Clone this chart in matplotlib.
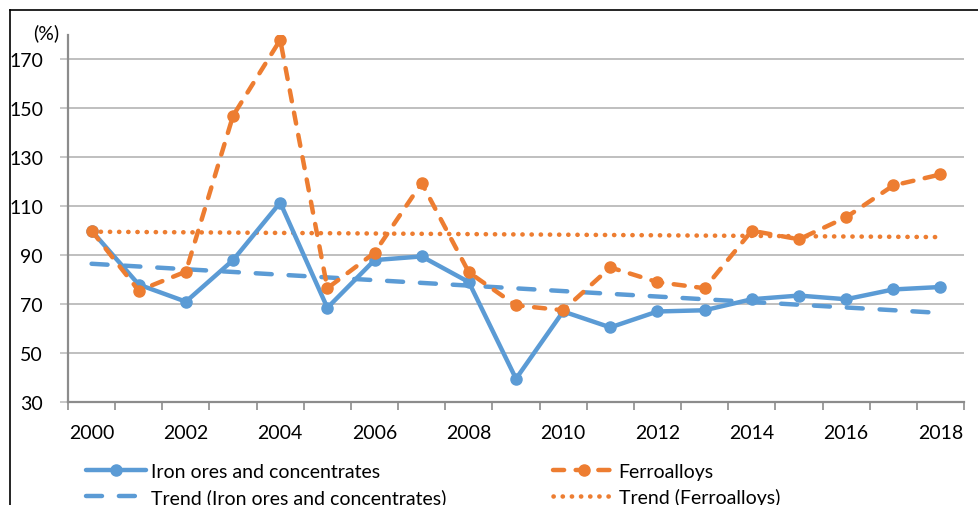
import numpy as np
import matplotlib
matplotlib.use('Agg')
import matplotlib.pyplot as plt
from matplotlib.lines import Line2D

plt.rcParams['font.family'] = ['Lato', 'DejaVu Sans']

# 데이터
years = list(range(2000, 2019))
iron = [100, 78, 71, 88, 111.5, 68.5, 88, 89.5, 79, 39.5,
        67, 60.5, 67, 67.5, 72, 73.5, 72, 76, 77]
ferro = [100, 75.5, 83.3, 147, 178, 76.5, 91, 119.5, 83, 69.5,
         67.5, 85, 79, 76.5, 100, 96.5, 105.5, 118.5, 123]
# 추세선 양 끝 값 (2000, 2018)
trend_iron = [86.5, 66.4]
trend_ferro = [99.6, 97.4]
tick_labels = [str(y) for y in years]
labels = ['Iron ores and concentrates', 'Trend (Iron ores and concentrates)',
          'Ferroalloys', 'Trend (Ferroalloys)']

blue = '#5B9BD5'
orange = '#ED7D31'

fig = plt.figure(figsize=(9.79, 5.06), dpi=100)
ax = fig.add_axes([68 / 979, 103 / 506, 896 / 979, 367 / 506])

x = np.arange(len(years))
tx = [x[0], x[-1]]

l_iron, = ax.plot(x, iron, color=blue, lw=3.2, marker='o', ms=8,
                  solid_capstyle='round', zorder=4)
l_ferro, = ax.plot(x, ferro, color=orange, lw=3.2, marker='o', ms=8,
                   dashes=(2.5, 2.6), dash_capstyle='round', zorder=5)
l_tiron, = ax.plot(tx, trend_iron, color=blue, lw=3.2,
                   dashes=(3.6, 3.8), dash_capstyle='round', zorder=3)
l_tferro, = ax.plot(tx, trend_ferro, color=orange, lw=3.3,
                    dashes=(0.05, 1.95), dash_capstyle='round', zorder=3)

ax.set_xlim(-0.5, len(years) - 0.5)
ax.set_ylim(30, 180)
ax.set_yticks(np.arange(30, 171, 20))
ax.yaxis.grid(True, color='#BFBFBF', lw=1.4)
ax.set_axisbelow(True)

# x축: 카테고리 경계에 눈금, 라벨은 2년마다
ax.set_xticks(np.arange(-0.5, len(years), 1))
ax.set_xticklabels([])
ax.set_xticks(x[::2], minor=True)
ax.set_xticklabels(tick_labels[::2], minor=True)
ax.tick_params(axis='x', which='major', length=6, width=1.2, color='#8C8C8C', direction='out')
ax.tick_params(axis='x', which='minor', length=0, pad=16, labelsize=14)
ax.tick_params(axis='y', length=6, width=1.2, color='#BFBFBF', pad=12, labelsize=14)

for s in ['top', 'right']:
    ax.spines[s].set_visible(False)
for s in ['left', 'bottom']:
    ax.spines[s].set_color('#8C8C8C')
    ax.spines[s].set_linewidth(1.6)

fig.text(33 / 979, 1 - 33 / 506, '(%)', fontsize=14, va='center', ha='left')

fig.legend([l_iron, l_tiron, l_ferro, l_tferro], labels, ncol=2,
           loc='upper left', bbox_to_anchor=(86 / 979, 1 - 464 / 506),
           frameon=False, fontsize=14, handlelength=3.1, handletextpad=0.25,
           columnspacing=5.5, labelspacing=0.42, borderaxespad=0, borderpad=0)

# 바깥 테두리 (왼쪽, 위쪽)
fig.add_artist(Line2D([10 / 979, 10 / 979], [0, 1 - 11 / 506], color='black', lw=1.2))
fig.add_artist(Line2D([10 / 979, 1], [1 - 11 / 506, 1 - 11 / 506], color='black', lw=1.2))

fig.savefig('out.png', dpi=100)
